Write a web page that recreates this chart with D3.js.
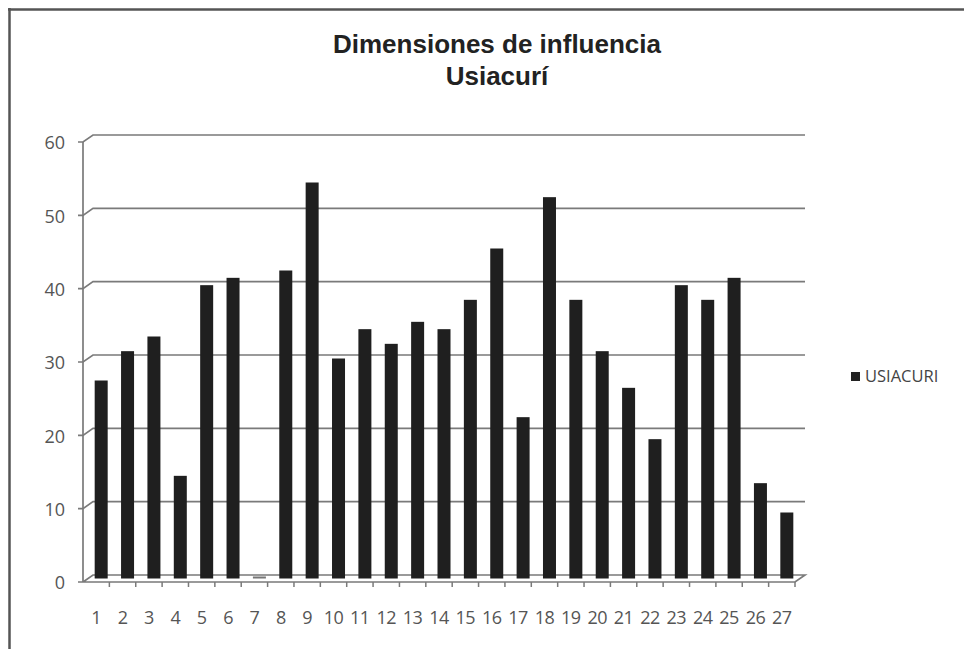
<!DOCTYPE html>
<html>
<head>
<meta charset="utf-8">
<script src="https://cdn.jsdelivr.net/npm/d3@7"></script>
<style>
  body { margin: 0; background: #fff; }
  svg { display: block; }
</style>
</head>
<body>
<div id="chart"></div>
<script>
var width = 964;
var height = 649;

// data
var categories = ["1","2","3","4","5","6","7","8","9","10","11","12","13","14","15","16","17","18","19","20","21","22","23","24","25","26","27"];
var values = [27, 31, 33, 14, 40, 41, 0, 42, 54, 30, 34, 32, 35, 34, 38, 45, 22, 52, 38, 31, 26, 19, 40, 38, 41, 13, 9];
var yTicks = [0, 10, 20, 30, 40, 50, 60];
var seriesName = "USIACURI";
var titleLines = ["Dimensiones de influencia", "Usiacurí"];

var svg = d3.select("#chart")
    .append("svg")
    .attr("width", width)
    .attr("height", height);

// frame (only top and left edges visible)
svg.append("line").attr("x1", 8).attr("y1", 9.5).attr("x2", width).attr("y2", 9.5)
    .attr("stroke", "#555").attr("stroke-width", 2.5);
svg.append("line").attr("x1", 9.5).attr("y1", 8).attr("x2", 9.5).attr("y2", height)
    .attr("stroke", "#555").attr("stroke-width", 2.5);

// front plane scales, back wall is shifted by depth
var x = d3.scaleBand().domain(categories).range([83, 795]);
var y = d3.scaleLinear().domain([0, 60]).range([582, 142]);
var dx = 10, dy = -7;
var x0 = x.range()[0], x1 = x.range()[1];

// gridlines on the back wall
var grid = svg.append("g");
yTicks.forEach(function(t){
    if (t === 0) return;
    grid.append("path")
        .attr("d", "M" + (x0 - 5) + "," + y(t) +
                   "L" + x0 + "," + y(t) +
                   "L" + (x0 + dx) + "," + (y(t) + dy) +
                   "L" + (x1 + dx) + "," + (y(t) + dy))
        .attr("fill", "none")
        .attr("stroke", "#7a7a7a")
        .attr("stroke-width", 1.7);
});

// floor
svg.append("path")
    .attr("d", "M" + (x0 - 5) + "," + y(0) + "L" + x1 + "," + y(0) +
               "L" + (x1 + dx) + "," + (y(0) + dy) +
               "L" + (x0 + dx) + "," + (y(0) + dy) +
               "L" + x0 + "," + y(0))
    .attr("fill", "none")
    .attr("stroke", "#7a7a7a")
    .attr("stroke-width", 1.7);

// y axis line
svg.append("line")
    .attr("x1", x0).attr("x2", x0)
    .attr("y1", y(60)).attr("y2", y(0))
    .attr("stroke", "#7a7a7a").attr("stroke-width", 1.7);

// x ticks on front edge
svg.append("g").selectAll("line")
    .data(categories)
    .enter().append("line")
    .attr("x1", function(d){ return x(d) + x.bandwidth(); })
    .attr("x2", function(d){ return x(d) + x.bandwidth(); })
    .attr("y1", y(0))
    .attr("y2", y(0) + 5)
    .attr("stroke", "#7a7a7a").attr("stroke-width", 1.5);

// bars sit half way into the depth
var bx = dx / 2, by = dy / 2;
var barW = 13;
svg.append("g").selectAll("rect")
    .data(values)
    .enter().append("rect")
    .attr("x", function(d, i){ return x(categories[i]) + x.bandwidth() / 2 - barW / 2 + bx; })
    .attr("y", function(d){ return Math.min(y(d), y(0) - 2) + by; })
    .attr("width", barW)
    .attr("height", function(d){ return Math.max(y(0) - y(d), 2); })
    .attr("fill", function(d){ return d === 0 ? "#777" : "#1f1f1f"; });

// y tick labels
svg.append("g").selectAll("text")
    .data(yTicks)
    .enter().append("text")
    .attr("x", 65)
    .attr("y", function(d){ return y(d) + 1; })
    .attr("dy", "0.35em")
    .attr("text-anchor", "end")
    .attr("font-family", "'Open Sans', sans-serif")
    .attr("font-size", 18)
    .attr("fill", "#555")
    .text(function(d){ return d; });

// x tick labels
svg.append("g").selectAll("text")
    .data(categories)
    .enter().append("text")
    .attr("x", function(d){ return x(d) + x.bandwidth() / 2; })
    .attr("y", 624)
    .attr("text-anchor", "middle")
    .attr("font-family", "'Open Sans', sans-serif")
    .attr("font-size", 18)
    .attr("letter-spacing", -0.5)
    .attr("fill", "#555")
    .text(function(d){ return d; });

// title
svg.append("text")
    .attr("text-anchor", "middle")
    .attr("font-family", "'Liberation Sans', Arial, sans-serif")
    .attr("font-weight", "bold")
    .attr("font-size", 26)
    .attr("fill", "#222")
    .selectAll("tspan")
    .data(titleLines)
    .enter().append("tspan")
    .attr("x", 497)
    .attr("y", function(d, i){ return i === 0 ? 53 : 85; })
    .text(function(d){ return d; });

// legend
var legend = svg.append("g").attr("transform", "translate(851,372)");
legend.append("rect").attr("width", 9).attr("height", 9).attr("fill", "#222");
legend.append("text")
    .attr("x", 14)
    .attr("y", 10)
    .attr("font-family", "'Open Sans', sans-serif")
    .attr("font-size", 16.5)
    .attr("fill", "#444")
    .text(seriesName);
</script>
</body>
</html>
